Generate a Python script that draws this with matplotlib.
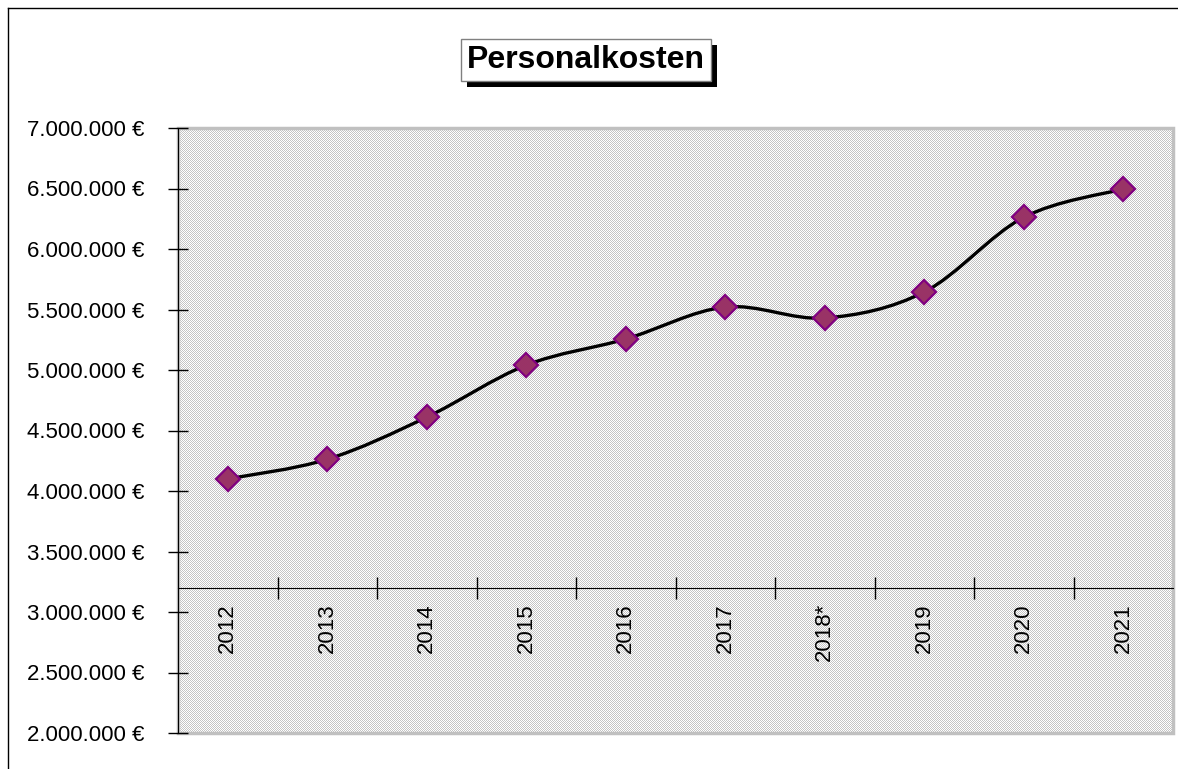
import matplotlib
matplotlib.use('Agg')
import numpy as np
import matplotlib.pyplot as plt
from matplotlib.path import Path
from matplotlib.patches import PathPatch, Rectangle
from matplotlib.ticker import FuncFormatter, FixedLocator

# Daten
jahre = ['2012', '2013', '2014', '2015', '2016', '2017', '2018*', '2019', '2020', '2021']
kosten = [4100000, 4262000, 4610000, 5040000, 5256000, 5520000, 5430000, 5645000, 6262000, 6496000]
y_ticks = [2000000, 2500000, 3000000, 3500000, 4000000, 4500000, 5000000,
           5500000, 6000000, 6500000, 7000000]

schrift = ['Liberation Sans Narrow', 'Liberation Sans', 'DejaVu Sans']

fig = plt.figure(figsize=(11.78, 7.69), dpi=100)
ax = fig.add_axes([178 / 1178, 36 / 769, 995 / 1178, 605 / 769])

# Schachbrett-Muster als Hintergrund (50 % grau)
muster = (np.indices((605, 995)).sum(axis=0) % 2).astype(float)
ax.imshow(muster, cmap=matplotlib.colors.ListedColormap(['#c4c4c4', '#ffffff']),
          extent=(0, 1, 0, 1), transform=ax.transAxes, aspect='auto',
          interpolation='nearest', zorder=0)

x = list(range(len(jahre)))

# geglättete Linie (Bezier wie in Excel)
pts = list(zip(x, kosten))
verts = [pts[0]]
codes = [Path.MOVETO]
for i in range(len(pts) - 1):
    p0 = pts[i - 1] if i > 0 else pts[i]
    p1 = pts[i]
    p2 = pts[i + 1]
    p3 = pts[i + 2] if i + 2 < len(pts) else pts[i + 1]
    c1 = (p1[0] + (p2[0] - p0[0]) / 6, p1[1] + (p2[1] - p0[1]) / 6)
    c2 = (p2[0] - (p3[0] - p1[0]) / 6, p2[1] - (p3[1] - p1[1]) / 6)
    verts += [c1, c2, p2]
    codes += [Path.CURVE4] * 3
ax.add_patch(PathPatch(Path(verts, codes), facecolor='none', edgecolor='black', lw=2.4, zorder=3))

ax.plot(x, kosten, linestyle='none', marker='D', markersize=12,
        markerfacecolor='#993366', markeredgecolor='#800080', markeredgewidth=1.6, zorder=4)

ax.set_xlim(-0.5, 9.5)
ax.set_ylim(2000000, 7000000)

# Achsen
ax.spines['bottom'].set_position(('data', 3200000))
ax.spines['bottom'].set_color('black')
ax.spines['left'].set_color('black')
for s in ['top', 'right']:
    ax.spines[s].set_visible(False)
ax.add_patch(Rectangle((0, 0), 1, 1, transform=ax.transAxes, fill=False,
                       edgecolor='#c0c0c0', lw=2.5, clip_on=False, zorder=1))

ax.set_yticks(y_ticks)
ax.yaxis.set_major_formatter(FuncFormatter(lambda v, p: f'{int(v):,} €'.replace(',', '.')))
ax.tick_params(axis='y', direction='inout', length=14, width=1, pad=17)

ax.xaxis.set_major_locator(FixedLocator([i + 0.5 for i in range(len(jahre) - 1)]))
ax.xaxis.set_minor_locator(FixedLocator(x))
ax.set_xticklabels([''] * (len(jahre) - 1))
ax.set_xticklabels(jahre, minor=True, rotation=90, va='top')
ax.tick_params(axis='x', which='major', direction='inout', length=16, width=1)
ax.tick_params(axis='x', which='minor', length=0, pad=11)

for lbl in ax.get_yticklabels() + ax.get_xticklabels(minor=True):
    lbl.set_family(schrift)
    lbl.set_fontsize(16)

# Titel mit Schatten
titel = fig.text(586 / 1178, 1 - 60 / 769, 'Personalkosten', ha='center', va='center',
                 fontsize=23, fontweight='bold', family=['Liberation Sans', 'DejaVu Sans'],
                 color='black', zorder=5,
                 bbox=dict(boxstyle='square,pad=0.2', facecolor='white', edgecolor='#808080'))
fig.canvas.draw()
bb = titel.get_bbox_patch().get_window_extent()
fig.add_artist(Rectangle((bb.x0 + 6, bb.y0 - 6), bb.width, bb.height, transform=None,
                         facecolor='black', edgecolor='none', zorder=4))

# Rahmen des Diagrammbereichs
fig.add_artist(plt.Line2D([8 / 1178, 8 / 1178], [0, 1 - 8 / 769], color='black', lw=1))
fig.add_artist(plt.Line2D([8 / 1178, 1], [1 - 8 / 769, 1 - 8 / 769], color='black', lw=1))

fig.savefig('out.png', dpi=100)
